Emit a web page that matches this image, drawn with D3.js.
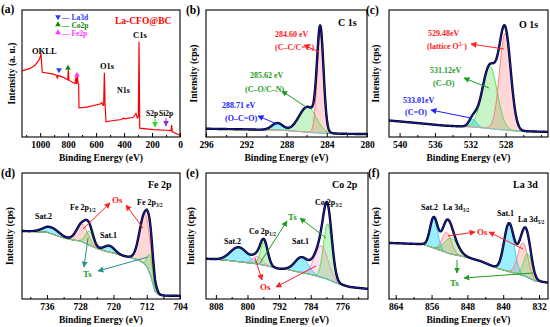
<!DOCTYPE html>
<html>
<head>
<meta charset="utf-8">
<script src="https://cdn.jsdelivr.net/npm/d3@7"></script>
<style>
body { margin: 0; background: #fff; }
text { font-family: "Liberation Serif", "Times New Roman", serif; font-weight: bold; }
</style>
</head>
<body>
<div id="chart"></div>
<script>
// (a) survey spectrum (binding energy eV, relative counts 0-100)
var surveyEnergy = [1130, 1073, 1037, 1020, 1006, 999, 994, 989, 985, 906, 882, 877, 873, 834, 803, 799, 794,
    751, 744, 739, 734, 729, 725, 722, 667, 572, 558, 553, 546, 541, 536, 529, 501, 417, 405, 396, 334, 315,
    305, 298, 293, 288, 191, 95, 64, 60, 55, 12, 0];
var surveyCounts = [52, 54, 56.5, 59, 61, 63.5, 65.5, 57, 51, 49.5, 48.5, 46, 48.5, 47, 45, 53, 44.5,
    42, 47, 41.5, 48, 43, 41, 23, 23.5, 26, 27, 25, 25, 50.5, 26, 12, 12.6, 13.8, 15, 14.3, 15.5, 18.5,
    15, 16, 75, 7, 5.8, 5.3, 5, 9.5, 4, 2, 1.3];

// fitted spectra: background points + peaks [centre eV, height, fwhm]
var c1sBgEnergy = [296, 292, 289, 287, 285.5, 284, 282, 280];
var c1sBgCounts = [6.5, 6, 5.5, 4.5, 3.5, 2.8, 2.5, 2.3];
var c1sPeaks = [[288.9, 5.5, 1.3], [285.9, 20, 2.0], [284.64, 78, 0.75]];

var o1sBgEnergy = [541.2, 538, 535, 533, 531, 529, 527, 523.2];
var o1sBgCounts = [13, 11, 9, 8.3, 7.5, 6, 4.8, 4];
var o1sPeaks = [[531.7, 6, 1.0], [529.8, 49, 2.0], [528.05, 76, 1.5]];

var fe2pBgEnergy = [742, 736, 732, 730, 728, 726, 724, 722, 720, 718, 716, 714, 713, 712, 711, 710, 709, 708, 704];
var fe2pBgCounts = [54, 53, 48.5, 47, 46, 43, 40, 38, 36.5, 34.5, 33, 31, 29, 26, 18, 6, 3, 2.7, 2.5];
var fe2pPeaks = [[735, 5, 4.5], [727.5, 14, 3.2], [725.8, 11, 2.2], [721, 5, 3], [712.4, 40, 3], [711.2, 15, 1.5]];

var co2pBgEnergy = [810.5, 806, 802, 798, 796, 792, 790, 788, 784, 780, 777, 774, 769.5];
var co2pBgCounts = [32, 31, 29.5, 28, 27, 24, 23.5, 22, 19.5, 16, 12, 9.5, 8];
var co2pPeaks = [[802.2, 11.5, 5], [797.5, 6, 3], [795.8, 18, 2.2], [786.3, 12, 4], [781.3, 25, 4], [779.7, 44, 2.5]];

var la3dBgEnergy = [865.5, 858, 856, 852, 848, 845, 842, 841, 838, 835, 833, 830];
var la3dBgCounts = [44.5, 43.5, 41, 36, 33, 30, 25.5, 24, 21, 18, 14.5, 13];
var la3dPeaks = [[855.5, 24, 2.0], [852.6, 16, 2.5], [851.6, 12.5, 3.5], [838.7, 38, 2.6], [835.6, 26, 2.6], [834.5, 18.5, 2.2]];

var compStyle = {
    red:   { line: "#ff6a6a", fill: "rgba(255,110,110,0.28)" },
    pink:  { line: "#ff6ec7", fill: "rgba(255,150,210,0.30)" },
    green: { line: "#2fe02f", fill: "rgba(70,220,70,0.30)" },
    cyan:  { line: "#18c8f0", fill: "rgba(0,215,255,0.40)" }
};

var svg = d3.select("#chart").append("svg")
    .attr("width", 550)
    .attr("height", 327);
var defs = svg.append("defs");

function marker(id, color) {
    defs.append("marker")
        .attr("id", id)
        .attr("viewBox", "0 0 10 10")
        .attr("refX", 9).attr("refY", 5)
        .attr("markerWidth", 6).attr("markerHeight", 6)
        .attr("orient", "auto")
        .append("path").attr("d", "M0,0L10,5L0,10z").attr("fill", color);
}
marker("ar-red", "#ff2020");
marker("ar-green", "#1c9c1c");
marker("ar-blue", "#2020ff");
marker("ar-teal", "#1f8f8f");
marker("ar-lime", "#22dd22");
marker("ar-purple", "#8a2be2");

// text with optional sub/superscript parts: "plain" or [str, "sub"|"sup"]
function txt(x, y, parts, color, size, anchor) {
    size = size || 8;
    var t = svg.append("text")
        .attr("x", x).attr("y", y)
        .attr("fill", color || "#000")
        .attr("font-size", size)
        .attr("text-anchor", anchor || "start");
    var shift = 0;
    parts.forEach(function (p) {
        if (typeof p === "string") {
            t.append("tspan").attr("dy", -shift).text(p);
            shift = 0;
            return;
        }
        var d = p[1] === "sub" ? 2 : -3.5;
        t.append("tspan")
            .attr("font-size", size * 0.65)
            .attr("dy", d - shift)
            .text(p[0]);
        shift = d;
    });
    return t;
}

function arrow(x1, y1, x2, y2, color, id) {
    svg.append("line")
        .attr("x1", x1).attr("y1", y1).attr("x2", x2).attr("y2", y2)
        .attr("stroke", color).attr("stroke-width", 1)
        .attr("marker-end", "url(#" + id + ")");
}

// frame, ticks, titles; returns scales and clipped group
function frame(p) {
    var x = d3.scaleLinear().domain(p.domain).range([p.x0, p.x1]);
    var y = d3.scaleLinear().domain([0, 100]).range([p.y1, p.y0]);
    defs.append("clipPath").attr("id", "clip-" + p.name)
        .append("rect")
        .attr("x", p.x0).attr("y", p.y0)
        .attr("width", p.x1 - p.x0).attr("height", p.y1 - p.y0);
    var plot = svg.append("g").attr("clip-path", "url(#clip-" + p.name + ")");

    var minor = svg.append("g")
        .attr("transform", "translate(0," + p.y1 + ")")
        .call(d3.axisBottom(x).tickValues(p.minor).tickSize(-2).tickFormat(""));
    minor.select(".domain").remove();
    minor.selectAll("text").remove();
    var major = svg.append("g")
        .attr("transform", "translate(0," + p.y1 + ")")
        .call(d3.axisBottom(x).tickValues(p.ticks).tickSize(-4).tickPadding(4).tickFormat(d3.format("d")));
    major.select(".domain").remove();
    major.selectAll("text")
        .attr("font-size", 9.5)
        .attr("fill", "#000")
        .attr("font-family", "Liberation Serif, serif")
        .attr("font-weight", "bold");

    svg.append("rect")
        .attr("x", p.x0).attr("y", p.y0)
        .attr("width", p.x1 - p.x0).attr("height", p.y1 - p.y0)
        .attr("fill", "none").attr("stroke", "#000").attr("stroke-width", 1.1);

    svg.append("text")
        .attr("x", (p.x0 + p.x1) / 2).attr("y", p.y1 + 24)
        .attr("text-anchor", "middle").attr("font-size", 9.5)
        .text("Binding Energy (eV)");
    svg.append("text")
        .attr("transform", "translate(" + p.ylx + "," + ((p.y0 + p.y1) / 2) + ") rotate(-90)")
        .attr("text-anchor", "middle").attr("font-size", 9.5)
        .text(p.ytitle);
    svg.append("text")
        .attr("x", p.lx).attr("y", p.ly)
        .attr("font-size", 11.5)
        .text(p.tag);
    return { x: x, y: y, plot: plot };
}

function gauss(e, pk) {
    var d = (e - pk[0]) / pk[2];
    return pk[1] * Math.exp(-4 * Math.LN2 * d * d);
}

function drawFit(p, bgE, bgI, peaks, kinds) {
    var s = frame(p);
    var x = s.x, y = s.y;
    var bg = d3.scaleLinear().domain(bgE).range(bgI);
    var lo = Math.min(p.domain[0], p.domain[1]), hi = Math.max(p.domain[0], p.domain[1]);
    var es = d3.range(lo, hi + 0.02, 0.02);

    peaks.forEach(function (pk, i) {
        var st = compStyle[kinds[i]];
        var pts = es.filter(function (e) { return gauss(e, pk) > 0.15; });
        s.plot.append("path")
            .datum(pts)
            .attr("fill", st.fill)
            .attr("d", d3.area()
                .x(function (e) { return x(e); })
                .y0(function (e) { return y(bg(e)); })
                .y1(function (e) { return y(bg(e) + gauss(e, pk)); }));
    });
    peaks.forEach(function (pk, i) {
        var st = compStyle[kinds[i]];
        s.plot.append("path")
            .datum(es)
            .attr("fill", "none")
            .attr("stroke", st.line)
            .attr("stroke-width", 0.9)
            .attr("d", d3.line()
                .x(function (e) { return x(e); })
                .y(function (e) { return y(bg(e) + gauss(e, pk)); }));
    });
    s.plot.append("path")
        .datum(es)
        .attr("fill", "none").attr("stroke", "#b0b0b0").attr("stroke-width", 0.9)
        .attr("d", d3.line().x(function (e) { return x(e); }).y(function (e) { return y(bg(e)); }));

    var env = d3.line()
        .x(function (e) { return x(e); })
        .y(function (e) { return y(bg(e) + d3.sum(peaks, function (pk) { return gauss(e, pk); })); });
    s.plot.append("path").datum(es)
        .attr("fill", "none").attr("stroke", "#000").attr("stroke-width", 2.4)
        .attr("d", env);
    s.plot.append("path").datum(es)
        .attr("fill", "none").attr("stroke", "#1a1aa8").attr("stroke-width", 1.2)
        .attr("d", env);
    return s;
}

// ---------- (a) survey ----------
var pa = frame({ name: "a", x0: 22, x1: 180, y0: 10, y1: 137, domain: [1130, 0],
    ticks: [1000, 800, 600, 400, 200, 0], minor: d3.range(100, 1101, 200),
    ytitle: "Intensity (a. u.)", ylx: 15, tag: "(a)", lx: 1, ly: 13 });
pa.plot.append("path")
    .datum(d3.zip(surveyEnergy, surveyCounts))
    .attr("fill", "none").attr("stroke", "#ff0000").attr("stroke-width", 1.2)
    .attr("d", d3.line().x(function (d) { return pa.x(d[0]); }).y(function (d) { return pa.y(d[1]); }));

txt(115, 24, ["La-CFO@BC"], "#ff0000", 9.5);
txt(32, 54, ["OKLL"], "#000", 8.5);
txt(100, 69, ["O1s"], "#000", 8.5);
txt(133, 38, ["C1s"], "#000", 8.5);
txt(117, 93, ["N1s"], "#000", 8);
txt(146, 116, ["S2p"], "#000", 7.5);
txt(159, 116, ["Si2p"], "#000", 7.5);
arrow(155, 119, 155, 127, "#22dd22", "ar-lime");
arrow(166, 118, 166, 126, "#8a2be2", "ar-purple");

var sym = d3.symbol().type(d3.symbolTriangle).size(14);
svg.append("path").attr("d", sym()).attr("fill", "#1e3cff").attr("transform", "translate(58,17) rotate(180)");
svg.append("path").attr("d", sym()).attr("fill", "#0b8a0b").attr("transform", "translate(58,24.5)");
svg.append("path").attr("d", sym()).attr("fill", "#ff33ff").attr("transform", "translate(58,32.5)");
txt(62, 20, ["\u2014 La3d"], "#1e3cff", 7.5);
txt(62, 28, ["\u2014 Co2p"], "#0b8a0b", 7.5);
txt(62, 36, ["\u2014 Fe2p"], "#ff33ff", 7.5);
svg.append("path").attr("d", sym()).attr("fill", "#1e3cff").attr("transform", "translate(59,70) rotate(180)");
svg.append("path").attr("d", sym()).attr("fill", "#0b8a0b").attr("transform", "translate(68,68)");
svg.append("path").attr("d", sym()).attr("fill", "#ff33ff").attr("transform", "translate(77,75)");

// ---------- (b) C 1s ----------
drawFit({ name: "b", x0: 206, x1: 367, y0: 10, y1: 137, domain: [296, 280],
    ticks: [296, 292, 288, 284, 280], minor: d3.range(294, 281, -4),
    ytitle: "Intensity (cps)", ylx: 197, tag: "(b)", lx: 186, ly: 14 },
    c1sBgEnergy, c1sBgCounts, c1sPeaks, ["cyan", "green", "red"]);
txt(338, 26, ["C 1s"], "#000", 10);
txt(275, 37, ["284.60 eV"], "#ff2020", 8);
txt(275, 50, ["(C\u2013C/C=C)"], "#ff2020", 8);
arrow(319, 52, 304, 45, "#ff2020", "ar-red");
txt(250, 78, ["285.62 eV"], "#1c9c1c", 8);
txt(245, 92, ["(C\u2013O/C\u2013N)"], "#1c9c1c", 8);
arrow(306, 107, 282, 91, "#1c9c1c", "ar-green");
txt(222, 108, ["288.71 eV"], "#2020ff", 8);
txt(225, 121, ["(O\u2013C=O)"], "#2020ff", 8);
arrow(277, 124, 258, 116, "#2020ff", "ar-blue");

// ---------- (c) O 1s ----------
drawFit({ name: "c", x0: 389, x1: 548, y0: 10, y1: 137, domain: [541.2, 523.2],
    ticks: [540, 536, 532, 528], minor: [538, 534, 530, 526, 524],
    ytitle: "Intensity (cps)", ylx: 379, tag: "(c)", lx: 366, ly: 14 },
    o1sBgEnergy, o1sBgCounts, o1sPeaks, ["cyan", "green", "red"]);
txt(519, 28, ["O 1s"], "#000", 10);
txt(428, 36, ["529.48eV"], "#ff2020", 8);
txt(427, 49, ["(lattice O", ["2\u2212", "sup"], ")"], "#ff2020", 8);
arrow(504, 49, 471, 44, "#ff2020", "ar-red");
txt(430, 73, ["531.12eV"], "#1c9c1c", 8);
txt(433, 86, ["(C\u2013O)"], "#1c9c1c", 8);
arrow(489, 88, 464, 78, "#1c9c1c", "ar-green");
txt(403, 103, ["533.01eV"], "#2020ff", 8);
txt(405, 115, ["(C=O)"], "#2020ff", 8);
arrow(471, 118, 431, 110, "#2020ff", "ar-blue");

// ---------- (d) Fe 2p ----------
drawFit({ name: "d", x0: 22, x1: 180, y0: 173, y1: 299, domain: [742, 704],
    ticks: [736, 728, 720, 712, 704], minor: [740, 732, 724, 716, 708],
    ytitle: "Intensity (cps)", ylx: 13, tag: "(d)", lx: 1, ly: 177 },
    fe2pBgEnergy, fe2pBgCounts, fe2pPeaks, ["cyan", "red", "green", "cyan", "red", "green"]);
txt(148, 188, ["Fe 2p"], "#000", 10);
txt(35, 219, ["Sat.2"], "#000", 8);
txt(70, 210, ["Fe 2p", ["1/2", "sub"]], "#000", 8);
txt(137, 205, ["Fe 2p", ["3/2", "sub"]], "#000", 8);
txt(100, 238, ["Sat.1"], "#000", 8);
txt(112, 203, ["Os"], "#ff2020", 9);
txt(83, 277, ["Ts"], "#1c9c1c", 9);
arrow(83, 229, 110, 203, "#ff2020", "ar-red");
arrow(143, 228, 126, 205, "#ff2020", "ar-red");
arrow(88, 238, 84, 267, "#1f8f8f", "ar-teal");
arrow(148, 257, 98, 271, "#1f8f8f", "ar-teal");

// ---------- (e) Co 2p ----------
drawFit({ name: "e", x0: 206, x1: 368, y0: 173, y1: 299, domain: [810.5, 769.5],
    ticks: [808, 800, 792, 784, 776], minor: [804, 796, 788, 780, 772],
    ytitle: "Intensity (cps)", ylx: 194, tag: "(e)", lx: 186, ly: 177 },
    co2pBgEnergy, co2pBgCounts, co2pPeaks, ["cyan", "pink", "green", "cyan", "pink", "green"]);
txt(332, 188, ["Co 2p"], "#000", 10);
txt(315, 205, ["Co 2p", ["3/2", "sub"]], "#000", 8);
txt(249, 234, ["Co 2p", ["1/2", "sub"]], "#000", 8);
txt(224, 244, ["Sat.2"], "#000", 8);
txt(292, 244, ["Sat.1"], "#000", 8);
txt(288, 220, ["Ts"], "#1c9c1c", 9);
txt(260, 290, ["Os"], "#ff2020", 9);
arrow(260, 263, 287, 221, "#1c9c1c", "ar-green");
arrow(326, 238, 300, 218, "#1c9c1c", "ar-green");
arrow(255, 258, 262, 280, "#ff2020", "ar-red");
arrow(316, 266, 276, 287, "#ff2020", "ar-red");

// ---------- (f) La 3d ----------
drawFit({ name: "f", x0: 389, x1: 548, y0: 173, y1: 299, domain: [865.5, 830],
    ticks: [864, 856, 848, 840, 832], minor: [860, 852, 844, 836],
    ytitle: "Intensity (cps)", ylx: 379, tag: "(f)", lx: 368, ly: 177 },
    la3dBgEnergy, la3dBgCounts, la3dPeaks, ["cyan", "red", "green", "cyan", "red", "green"]);
txt(513, 188, ["La 3d"], "#000", 10);
txt(421, 210, ["Sat.2"], "#000", 8);
txt(443, 210, ["La 3d", ["3/2", "sub"]], "#000", 8);
txt(497, 216, ["Sat.1"], "#000", 8);
txt(518, 222, ["La 3d", ["5/2", "sub"]], "#000", 8);
txt(477, 235, ["Os"], "#ff2020", 9);
txt(450, 286, ["Ts"], "#1c9c1c", 9);
arrow(448, 236, 475, 232, "#ff2020", "ar-red");
arrow(523, 249, 489, 232, "#ff2020", "ar-red");
arrow(457, 260, 457, 273, "#1c9c1c", "ar-green");
arrow(533, 273, 464, 278, "#1c9c1c", "ar-green");
</script>
</body>
</html>
